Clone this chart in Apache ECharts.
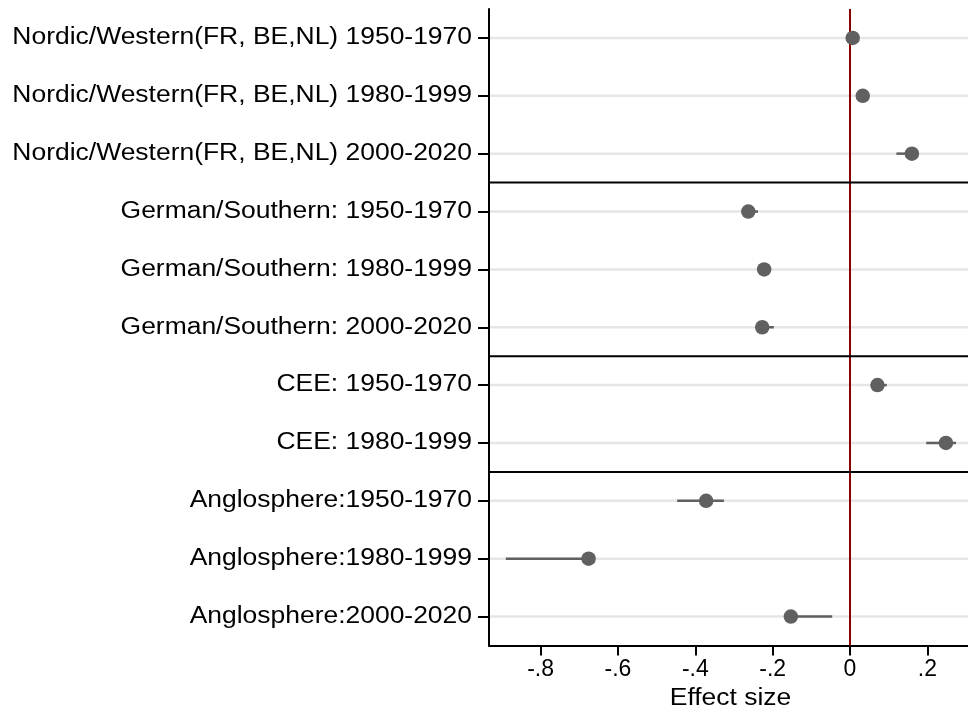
<!DOCTYPE html>
<html>
<head>
<meta charset="utf-8">
<script src="https://cdn.jsdelivr.net/npm/echarts@6/dist/echarts.min.js"></script>
<style>html,body{margin:0;padding:0;background:#fff}#c{width:968px;height:715px}</style>
</head>
<body>
<div id="c"></div>
<script>
const categories = [
  'Nordic/Western(FR, BE,NL) 1950-1970',
  'Nordic/Western(FR, BE,NL) 1980-1999',
  'Nordic/Western(FR, BE,NL) 2000-2020',
  'German/Southern: 1950-1970',
  'German/Southern: 1980-1999',
  'German/Southern: 2000-2020',
  'CEE: 1950-1970',
  'CEE: 1980-1999',
  'Anglosphere:1950-1970',
  'Anglosphere:1980-1999',
  'Anglosphere:2000-2020'
];
const estimates = [0.007, 0.033, 0.160, -0.263, -0.222, -0.227, 0.071, 0.248, -0.372, -0.676, -0.153];
const ciLow     = [0.002, 0.028, 0.120, -0.270, -0.228, -0.232, 0.066, 0.197, -0.447, -0.890, -0.158];
const ciHigh    = [0.012, 0.038, 0.165, -0.238, -0.216, -0.197, 0.095, 0.274, -0.326, -0.670, -0.046];
const groupEnds = [2, 5, 7];   // index of last row in each group (separator drawn after)
const xTicks = [-0.8, -0.6, -0.4, -0.2, 0, 0.2];
const xTickLabels = ['-.8', '-.6', '-.4', '-.2', '0', '.2'];
const xTitle = 'Effect size';

const FONT = '"Liberation Sans", Arial, Helvetica, sans-serif';
const DOT = '#606060';
const FS = 23;
const STRETCH = 1.15;

const chart = echarts.init(document.getElementById('c'));
chart.setOption({
  animation: false,
  backgroundColor: '#fff',
  grid: { left: 489, right: 0, top: 9, bottom: 69.5, containLabel: false },
  xAxis: {
    type: 'value',
    min: -0.9335, max: 0.3051,
    axisLine: { show: true, onZero: false, lineStyle: { color: '#000', width: 2 } },
    axisTick: { show: true, length: 10, lineStyle: { color: '#000', width: 2 }, customValues: xTicks },
    axisLabel: { show: true, margin: 13, color: '#000', fontSize: FS, fontFamily: FONT,
      customValues: xTicks,
      formatter: v => { const i = xTicks.findIndex(t => Math.abs(t - v) < 1e-9); return i >= 0 ? xTickLabels[i] : ''; } },
    splitLine: { show: false }
  },
  yAxis: {
    type: 'category', inverse: true, data: categories, boundaryGap: true,
    axisLine: { show: true, onZero: false, lineStyle: { color: '#000', width: 2 } },
    axisTick: { show: true, alignWithLabel: true, length: 11, lineStyle: { color: '#000', width: 2 } },
    axisLabel: { show: false },
    splitLine: { show: false }
  },
  series: [
    {
      type: 'custom', name: 'gridlines', z: 1, silent: true,
      renderItem: (params, api) => {
        const cs = params.coordSys;
        const y = api.coord([0, api.value(0)])[1];
        return { type: 'line', shape: { x1: cs.x + 1, y1: y, x2: cs.x + cs.width, y2: y },
          style: { stroke: '#e6e6e6', lineWidth: 2.5 } };
      },
      encode: { y: 0 },
      data: categories.map((c, i) => [i])
    },
    {
      type: 'custom', name: 'ylabels', z: 6, silent: true, clip: false,
      renderItem: (params, api) => {
        const cs = params.coordSys;
        const i = api.value(0);
        const y = api.coord([0, i])[1];
        return { type: 'text', x: cs.x - 17, y: y, scaleX: STRETCH, scaleY: 1,
          style: { text: categories[i], x: 0, y: 0, align: 'right', verticalAlign: 'middle',
            fill: '#000', fontSize: FS, fontFamily: FONT } };
      },
      encode: { y: 0 },
      data: categories.map((c, i) => [i])
    },
    {
      type: 'custom', name: 'xtitle', z: 6, silent: true, clip: false,
      renderItem: (params, api) => {
        const cs = params.coordSys;
        return { type: 'text', x: cs.x + cs.width / 2 + 2, y: cs.y + cs.height + 53, scaleX: STRETCH,
          style: { text: xTitle, x: 0, y: 0, align: 'center', verticalAlign: 'middle',
            fill: '#000', fontSize: FS, fontFamily: FONT } };
      },
      encode: { y: 0 },
      data: [[0]]
    },
    {
      type: 'custom', name: 'separators', z: 3, silent: true,
      renderItem: (params, api) => {
        const cs = params.coordSys;
        const i = api.value(0);
        const y = (api.coord([0, i])[1] + api.coord([0, i + 1])[1]) / 2;
        return { type: 'line', shape: { x1: cs.x, y1: y, x2: cs.x + cs.width, y2: y },
          style: { stroke: '#000', lineWidth: 2 } };
      },
      encode: { y: 0 },
      data: groupEnds.map(i => [i])
    },
    {
      type: 'custom', name: 'ci', z: 4, silent: true,
      renderItem: (params, api) => {
        const p1 = api.coord([api.value(1), api.value(0)]);
        const p2 = api.coord([api.value(2), api.value(0)]);
        return { type: 'line', shape: { x1: p1[0], y1: p1[1], x2: p2[0], y2: p2[1] },
          style: { stroke: DOT, lineWidth: 2.5 } };
      },
      encode: { x: [1, 2], y: 0 },
      data: categories.map((c, i) => [i, ciLow[i], ciHigh[i]])
    },
    {
      type: 'scatter', name: 'estimate', z: 5,
      symbol: 'circle', symbolSize: 14.5,
      itemStyle: { color: DOT, opacity: 1 },
      data: categories.map((c, i) => [estimates[i], c]),
      markLine: {
        silent: true, symbol: 'none', label: { show: false }, z: 2,
        lineStyle: { color: '#8B0000', width: 2, type: 'solid' },
        data: [{ xAxis: 0 }]
      }
    }
  ]
});
</script>
</body>
</html>
